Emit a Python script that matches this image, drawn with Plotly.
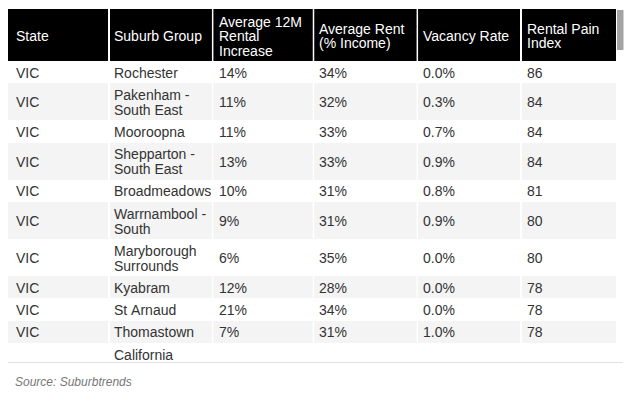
import plotly.graph_objects as go

# ---- data ----
headers = ["State", "Suburb Group", "Average 12M\nRental\nIncrease",
           "Average Rent\n(% Income)", "Vacancy Rate", "Rental Pain\nIndex"]
states = ["VIC"] * 10 + [""]
suburbs = ["Rochester", "Pakenham -\nSouth East", "Mooroopna", "Shepparton -\nSouth East",
           "Broadmeadows", "Warrnambool -\nSouth", "Maryborough\nSurrounds", "Kyabram",
           "St Arnaud", "Thomastown", "California"]
rental_increase = ["14%", "11%", "11%", "13%", "10%", "9%", "6%", "12%", "21%", "7%", ""]
rent_income = ["34%", "32%", "33%", "33%", "31%", "31%", "35%", "28%", "34%", "31%", ""]
vacancy = ["0.0%", "0.3%", "0.7%", "0.9%", "0.8%", "0.9%", "0.0%", "0.0%", "0.0%", "1.0%", ""]
pain_index = ["86", "84", "84", "84", "81", "80", "80", "78", "78", "78", ""]
source_text = "Source: Suburbtrends"

# ---- layout helpers ----
W, H = 633, 403
OFF = 8            # default body margin of the html page
NBSP = "\u00a0"
UNIT = 7.42        # one half text line; single rows = 3 units, double rows = 5 units
HDR_UNIT = UNIT - 0.1
FONT = "Liberation Sans, Arial, Helvetica, sans-serif"
ROW_COLORS = ["#ffffff", "#f4f4f4"]


def fx(px):
    return max(0.0, min(1.0, (px - OFF) / W))


def fy(py):
    return max(0.0, min(1.0, 1 - (py - OFF) / H))


def stack(texts):
    """Spread the lines of each cell over half-line sub rows so that every
    cell of a row is vertically centred, like the html table."""
    parts = [t.split("\n") if t else [""] for t in texts]
    n = max(len(p) for p in parts)
    units = 2 * n + 1
    out = []
    for p in parts:
        col = [""] * units
        s = n - len(p)
        for i, line in enumerate(p):
            col[s + 2 * i] = line.replace(" ", NBSP)
        out.append(col)
    return out, units


data_cols = [states, suburbs, rental_increase, rent_income, vacancy, pain_index]
hdr_cols, hdr_units = stack(headers)
body_cols = [[] for _ in data_cols]
body_fill = []
for r in range(len(states)):
    cols, units = stack([c[r] for c in data_cols])
    for j in range(len(data_cols)):
        body_cols[j] += cols[j]
    body_fill += [ROW_COLORS[r % 2]] * units
n_sub = len(body_fill)

# column boundaries (page px) of the background table, with thin white gaps
bounds = [7, 108, 212, 313, 417, 521, 616]
GAP = 1.5
a_widths, a_fill, a_hfill = [], [], []
for j in range(6):
    w = bounds[j + 1] - bounds[j] - (GAP / 2 if j > 0 else 0) - (GAP / 2 if j < 5 else 0)
    a_widths.append(w)
    a_fill.append(body_fill)
    a_hfill.append("#000000")
    if j < 5:
        a_widths.append(GAP)
        a_fill.append(["#ffffff"] * n_sub)
        a_hfill.append("#ffffff")
n_a = len(a_widths)

# text layer column boundaries (page px)
tb = [8, 106, 211, 311, 415, 519, 614]
b_widths = [tb[j + 1] - tb[j] for j in range(6)]

fig = go.Figure()
# background layer: header block, zebra rows, white column gaps
fig.add_trace(go.Table(
    domain=dict(x=[fx(7), fx(616)], y=[fy(362.5), fy(9)]),
    columnwidth=a_widths,
    header=dict(values=[""] * n_a, fill_color=a_hfill, line=dict(width=0),
                height=hdr_units * UNIT, font=dict(family=FONT, size=14)),
    cells=dict(values=[[""] * n_sub] * n_a, fill_color=a_fill, line=dict(width=0),
               height=UNIT, font=dict(family=FONT, size=14)),
))
# text layer
fig.add_trace(go.Table(
    domain=dict(x=[fx(tb[0]), fx(tb[-1])], y=[fy(362.5), fy(8)]),
    columnwidth=b_widths,
    header=dict(values=hdr_cols, fill_color="rgba(0,0,0,0)", line=dict(width=0),
                height=HDR_UNIT, align="left",
                font=dict(family=FONT, size=14, color="#ffffff")),
    cells=dict(values=body_cols, fill_color="rgba(0,0,0,0)", line=dict(width=0),
               height=UNIT, align="left",
               font=dict(family=FONT, size=14, color="#333333")),
))

fig.add_shape(type="line", xref="paper", yref="paper", x0=fx(7), x1=fx(623),
              y0=fy(362.5), y1=fy(362.5), line=dict(color="#e2e2e2", width=1))
fig.add_shape(type="rect", xref="paper", yref="paper", x0=fx(617), x1=fx(623.5),
              y0=fy(50), y1=fy(10), fillcolor="#a3a3a3", line=dict(width=0))
fig.add_annotation(text="<i>" + source_text + "</i>", xref="paper", yref="paper",
                   x=fx(13), y=fy(382), xanchor="left", yanchor="middle", showarrow=False,
                   font=dict(family=FONT, size=12, color="#777777"))

fig.update_layout(width=W, height=H, margin=dict(l=0, r=0, t=0, b=0),
                  paper_bgcolor="#ffffff", plot_bgcolor="#ffffff")
fig.write_html("out.html")
